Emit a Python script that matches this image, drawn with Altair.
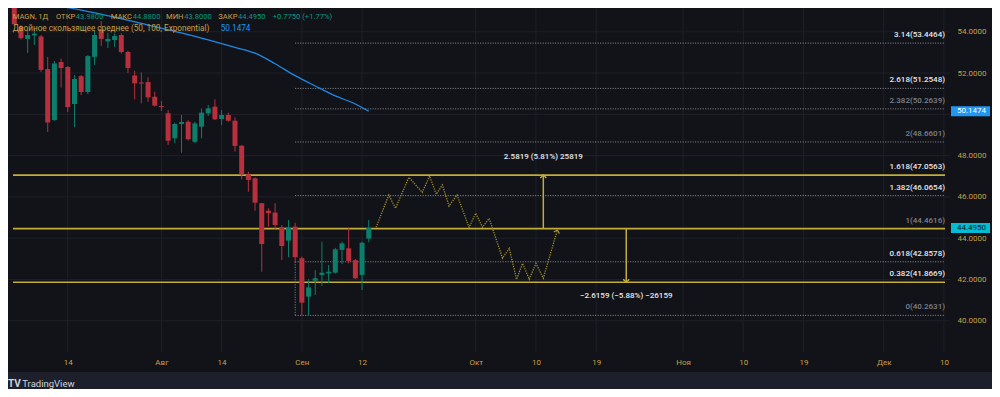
import altair as alt
import pandas as pd

# ---------------- colours / fonts ----------------
BG = "#121318"
OUTER = "#1d202b"
GRID = "#1e2029"
GOLD = "#c6a04a"
UP = "#089981"
DOWN = "#f23645"
UP_WICK = "#0b7f6c"
DOWN_WICK = "#b8303d"
YELLOW = "#c2ad3c"
ZIGZAG = "#a5932f"
FIB_DOT = "#8e9199"
BRIGHT = "#e6e8ee"
DIM = "#7d818b"
MA_BLUE = "#1e88e5"
FONT = "Roboto"

# ---------------- data ----------------
bar_index = list(range(54))
opens = [55.30, 54.23, 53.65, 53.82, 53.77, 52.19, 49.72, 52.53, 52.29, 50.50,
         51.85, 51.08, 52.78, 54.13, 53.53, 53.60, 53.84, 53.02, 51.88, 51.54,
         51.56, 50.85, 50.40, 50.05, 48.84, 49.53, 49.64, 48.67, 49.40, 50.05,
         50.37, 49.77, 49.97, 49.69, 48.48, 47.09, 46.90, 45.69, 45.33, 45.24,
         44.53, 43.88, 44.56, 43.03, 41.17, 41.94, 42.22, 42.30, 42.33, 43.43,
         43.51, 42.94, 42.22, 43.98]
highs = [55.45, 54.32, 54.08, 54.13, 53.84, 52.78, 52.58, 52.70, 52.34, 51.90,
         51.90, 52.87, 54.06, 54.52, 53.94, 53.92, 53.92, 53.07, 52.11, 52.02,
         51.79, 51.09, 50.64, 50.21, 49.59, 49.97, 49.72, 49.64, 50.29, 50.45,
         50.73, 50.21, 50.08, 49.85, 48.51, 47.22, 46.95, 45.70, 45.45, 45.69,
         44.64, 44.88, 44.75, 43.11, 42.01, 42.46, 43.83, 42.70, 43.53, 43.83,
         44.48, 42.99, 43.83, 44.88]
lows = [54.28, 53.62, 52.97, 53.36, 52.05, 49.14, 49.68, 51.30, 50.11, 49.38,
        50.93, 50.98, 52.39, 53.31, 53.21, 53.27, 52.95, 52.00, 50.72, 50.53,
        50.61, 50.38, 50.17, 48.51, 48.60, 48.14, 48.73, 48.60, 48.84, 49.92,
        49.72, 49.48, 49.64, 48.19, 46.85, 46.25, 45.33, 42.38, 44.56, 44.40,
        42.94, 43.08, 42.81, 40.2631, 40.28, 41.25, 41.69, 41.82, 42.29, 42.75,
        42.78, 42.02, 41.49, 43.80]
closes = [54.36, 53.69, 53.84, 53.91, 52.15, 49.60, 52.46, 52.24, 50.35, 51.71,
          51.08, 52.82, 53.84, 53.65, 53.65, 53.79, 53.02, 52.24, 51.50, 51.49,
          50.82, 50.42, 50.35, 48.72, 49.53, 49.63, 48.79, 49.56, 50.08, 50.29,
          49.76, 49.97, 49.69, 48.47, 47.09, 46.82, 45.72, 43.72, 45.21, 44.64,
          43.62, 44.53, 43.08, 40.88, 41.62, 42.06, 42.33, 42.38, 43.46, 43.75,
          42.90, 42.06, 43.78, 44.495]

# double EMA line
ma_index = [5, 6.5, 10, 15, 20, 25, 29, 33, 36, 39, 42, 45, 48, 51, 53]
ma_value = [55.33, 55.245, 55.05, 54.71, 54.32, 53.94, 53.60, 53.24, 52.96,
            52.45, 51.87, 51.37, 50.89, 50.50, 50.1474]

# time axis
tick_index = [8, 22, 31, 43, 52, 69, 78, 87, 100, 109, 118, 130, 139]
tick_labels = ["14", "Авг", "14", "Сен", "12", "Окт", "10", "19", "Ноя",
               "10", "19", "Дек", "10"]
price_grid = [40, 42, 44, 46, 48, 50, 52, 54]
price_labels = [40, 42, 44, 46, 48, 52, 54]

# fibonacci extension
fib_ratio = ["3.14", "2.618", "2.382", "2", "1.618", "1.382", "1", "0.618", "0.382", "0"]
fib_price = [53.4464, 51.2548, 50.2639, 48.6601, 47.0563, 46.0654, 44.4616,
             42.8578, 41.8669, 40.2631]
fib_solid = [False, False, False, False, True, False, True, False, True, False]
fib_bright = [True, True, False, False, True, True, False, True, True, False]
fib_anchor = 42

# projected path
zz_index = [54.1, 56.0, 57.0, 59.0, 61.0, 62.1, 63.1, 64.0, 65.0, 66.2, 68.0,
            69.0, 70.0, 71.0, 73.0, 74.0, 75.1, 76.0, 77.0, 78.0, 79.1, 81.2]
zz_price = [44.53, 46.09, 45.45, 46.95, 46.22, 47.01, 46.13, 46.58, 45.56,
            46.09, 44.53, 45.21, 44.53, 44.96, 43.03, 43.51, 42.01, 42.78,
            42.01, 42.78, 42.06, 44.40]

# price range measurements
rng_index = [79.1, 91.5]
rng_from = [44.4616, 44.4616]
rng_to = [47.0563, 41.8669]
rng_text = ["2.5819 (5.81%) 25819", "−2.6159 (−5.88%) −26159"]
rng_text_price = [47.92, 41.20]

# last values on price scale
box_price = [50.1474, 44.4950]
box_text = ["50.1474", "44.4950"]
box_fill = ["#2196f3", "#00bcd4"]
box_ink = ["#ffffff", "#0f1117"]

# header
hdr1_x = [4.7, 48, 67.8, 102.7, 124.8, 158, 176.2, 210.3, 230.0, 264.7]
hdr1_text = ["MAGN, 1Д", "ОТКР", "43.9800", "МАКС", "44.8800", "МИН", "43.8000",
             "ЗАКР", "44.4950", "+0.7750 (+1.77%)"]
hdr1_col = [GOLD, GOLD, UP, GOLD, UP, GOLD, UP, GOLD, UP, UP]
hdr2_x = [4.7, 212.7]
hdr2_text = ["Двойное скользящее среднее (50, 100, Exponential)", "50.1474"]
hdr2_col = [GOLD, "#2196f3"]

# ---------------- scales / axes ----------------
X0, X1 = -0.192, 139.16
Y0, Y1 = 38.489, 55.148
W, H = 942, 344

xs = alt.Scale(domain=[X0, X1], nice=False, zero=False)
ys = alt.Scale(domain=[Y0, Y1], nice=False, zero=False)

label_expr = "[{}][indexof([{}], datum.value)]".format(
    ",".join("'" + t + "'" for t in tick_labels),
    ",".join(str(v) for v in tick_index))

xaxis = alt.Axis(values=tick_index, labelExpr=label_expr, grid=False, domain=False,
                 ticks=False, labelColor=GOLD, labelFont=FONT, labelFontSize=8,
                 labelPadding=10, labelBaseline="middle", labelOverlap=False,
                 labelFlush=False, title=None, zindex=0)
yaxis = alt.Axis(values=price_labels, format=".4f", orient="right", grid=False,
                 domain=False, ticks=False, labelColor=GOLD, labelFont=FONT,
                 labelFontSize=8, labelPadding=7, labelAlign="left", title=None,
                 zindex=0)


def X(f):
    return alt.X(f, type="quantitative", scale=xs, axis=xaxis)


def Y(f):
    return alt.Y(f, type="quantitative", scale=ys, axis=yaxis)


# ---------------- frames ----------------
candles = pd.DataFrame({"x": bar_index, "open": opens, "high": highs,
                        "low": lows, "close": closes})
candles["dir"] = ["up" if c >= o else "down" for o, c in zip(opens, closes)]

fib = pd.DataFrame({"ratio": fib_ratio, "y": fib_price, "solid": fib_solid,
                    "bright": fib_bright})
fib["label"] = [f"{r}({p:.4f})" for r, p in zip(fib_ratio, fib_price)]
fib["x"] = [X0 if s else fib_anchor for s in fib_solid]
fib["x2"] = X1
fib["col"] = [BRIGHT if b else DIM for b in fib_bright]

# ---------------- layers ----------------
grid_v = alt.Chart(pd.DataFrame({"x": tick_index})).mark_rule(
    color=GRID, strokeWidth=1).encode(x=X("x"))
grid_h = alt.Chart(pd.DataFrame({"y": price_grid})).mark_rule(
    color=GRID, strokeWidth=1).encode(y=Y("y"))

fib_dotted = alt.Chart(fib[~fib["solid"]]).mark_rule(
    color=FIB_DOT, strokeWidth=1, strokeDash=[1, 1.5]).encode(
    x=X("x"), x2="x2", y=Y("y"))
fib_lines = alt.Chart(fib[fib["solid"]]).mark_rule(
    color=YELLOW, strokeWidth=1.6).encode(x=X("x"), x2="x2", y=Y("y"))
fib_vert = alt.Chart(pd.DataFrame({"x": [fib_anchor], "y": [fib_price[-1]],
                                   "y2": [fib_price[7]]})).mark_rule(
    color=FIB_DOT, strokeWidth=1, strokeDash=[1, 1.5]).encode(
    x=X("x"), y=Y("y"), y2="y2")
fib_text = alt.Chart(fib).mark_text(
    align="right", baseline="middle", dy=-8, font=FONT, fontSize=8,
    fontWeight=500).encode(
    x=alt.value(937), y=Y("y"), text="label:N",
    color=alt.Color("col:N", scale=None))

ma = alt.Chart(pd.DataFrame({"x": ma_index, "y": ma_value})).mark_line(
    color=MA_BLUE, strokeWidth=1.3, clip=True, interpolate="monotone").encode(
    x=X("x"), y=Y("y"))

col_scale = alt.Scale(domain=["up", "down"], range=[UP, DOWN])
wick_scale = alt.Scale(domain=["up", "down"], range=[UP_WICK, DOWN_WICK])
wicks = alt.Chart(candles).mark_rule(strokeWidth=1, clip=True).encode(
    x=X("x"), y=Y("low"), y2="high",
    color=alt.Color("dir:N", scale=wick_scale, legend=None))
bodies = alt.Chart(candles).mark_bar(size=5, clip=True).encode(
    x=X("x"), y=Y("open"), y2="close",
    color=alt.Color("dir:N", scale=col_scale, legend=None))

zz = alt.Chart(pd.DataFrame({"x": zz_index, "y": zz_price, "o": range(len(zz_index))})).mark_line(
    color=ZIGZAG, strokeWidth=1.3, strokeDash=[1.2, 1.2]).encode(
    x=X("x"), y=Y("y"), order="o:Q")
zz_head = alt.Chart(pd.DataFrame({"x": [zz_index[-1]], "y": [zz_price[-1]]})).mark_point(
    shape="M-1,1L0,0L1,1", filled=False, size=36, strokeWidth=1.2,
    color=ZIGZAG, angle=16, opacity=1).encode(x=X("x"), y=Y("y"))

rng = pd.DataFrame({"x": rng_index, "y": rng_from, "y2": rng_to,
                    "t": rng_text, "ty": rng_text_price})
rng_rules = alt.Chart(rng).mark_rule(color=YELLOW, strokeWidth=1.5).encode(
    x=X("x"), y=Y("y"), y2="y2")
head_up = alt.Chart(rng.iloc[[0]]).mark_point(
    shape="M-1,1L0,0L1,1", filled=False, size=36, strokeWidth=1.4,
    color=YELLOW, opacity=1).encode(x=X("x"), y=Y("y2"))
head_dn = alt.Chart(rng.iloc[[1]]).mark_point(
    shape="M-1,-1L0,0L1,-1", filled=False, size=36, strokeWidth=1.4,
    color=YELLOW, opacity=1).encode(x=X("x"), y=Y("y2"))
rng_label = alt.Chart(rng).mark_text(
    align="center", baseline="middle", font=FONT, fontSize=8, fontWeight=500,
    color=BRIGHT).encode(x=X("x"), y=Y("ty"), text="t:N")

boxes = pd.DataFrame({"y": [p - 0.242 for p in box_price],
                      "y2": [p + 0.242 for p in box_price],
                      "p": box_price, "t": box_text, "fill": box_fill, "ink": box_ink})
box_rect = alt.Chart(boxes).mark_rect().encode(
    x=alt.value(943), x2=alt.value(982), y=Y("y"), y2="y2",
    color=alt.Color("fill:N", scale=None))
box_txt = alt.Chart(boxes).mark_text(
    align="left", baseline="middle", font=FONT, fontSize=8).encode(
    x=alt.value(949), y=Y("p"), text="t:N", color=alt.Color("ink:N", scale=None))

hdr1 = alt.Chart(pd.DataFrame({"px": hdr1_x, "t": hdr1_text, "c": hdr1_col})).mark_text(
    align="left", baseline="middle", font=FONT, fontSize=7.6, y=8.7).encode(
    x=alt.X("px:Q", scale=None), text="t:N", color=alt.Color("c:N", scale=None))
hdr2 = alt.Chart(pd.DataFrame({"px": hdr2_x, "t": hdr2_text, "c": hdr2_col})).mark_text(
    align="left", baseline="middle", font=FONT, fontSize=8.2, y=21.3).encode(
    x=alt.X("px:Q", scale=None), text="t:N", color=alt.Color("c:N", scale=None))

one = pd.DataFrame({"k": [0]})
cover = alt.Chart(one).mark_rect(color=BG).encode(
    x=alt.value(943.5), x2=alt.value(952), y=alt.value(346), y2=alt.value(362))
strip = alt.Chart(one).mark_rect(color=OUTER).encode(
    x=alt.value(-2), x2=alt.value(986), y=alt.value(364), y2=alt.value(383))
logo_icon = alt.Chart(one).mark_text(
    text="TV", align="left", baseline="middle", font=FONT, fontSize=10,
    fontWeight="bold", color="#d1d4dc").encode(x=alt.value(0), y=alt.value(376.3))
logo_text = alt.Chart(one).mark_text(
    text="TradingView", align="left", baseline="middle", font=FONT, fontSize=9.5,
    color="#d1d4dc").encode(x=alt.value(14.3), y=alt.value(376.3))

chart = alt.layer(
    grid_v, grid_h, fib_dotted, fib_lines, fib_vert, ma, wicks, bodies,
    zz, zz_head, rng_rules, head_up, head_dn, fib_text, rng_label,
    box_rect, box_txt, hdr1, hdr2, cover, strip, logo_icon, logo_text
).properties(
    width=W, height=H,
    padding={"left": 0, "top": 0, "right": 42, "bottom": 37},
    autosize=alt.AutoSizeParams(type="none"),
    background=BG,
).configure_view(stroke=None)

chart.save("out.html", embed_options={"renderer": "svg", "actions": False})
